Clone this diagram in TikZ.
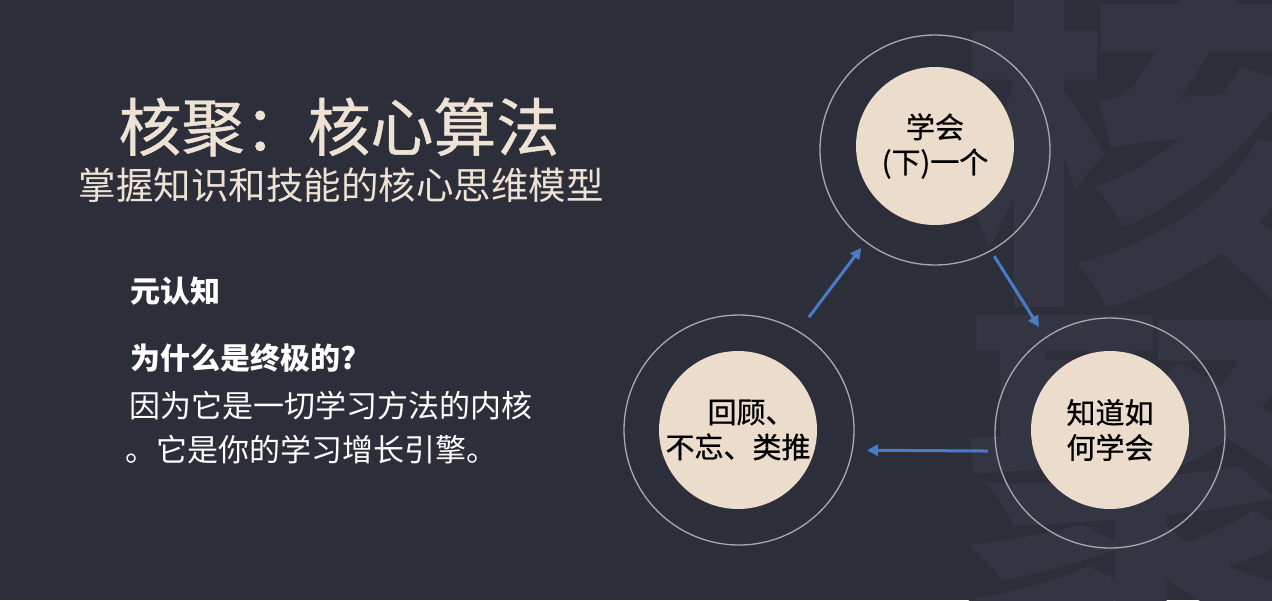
\documentclass[tikz,border=0pt]{standalone}
\usepackage{fontspec}
\usetikzlibrary{arrows.meta}
\newfontfamily\cjk{Noto Sans CJK SC}
\newfontfamily\cjkmed[FakeBold=0.7]{Noto Sans CJK SC}
\definecolor{bgc}{HTML}{2C2E3A}
\definecolor{wmc}{HTML}{333542}
\definecolor{beigetext}{HTML}{EDE2D3}
\definecolor{discfill}{HTML}{EBDCCB}
\definecolor{ringc}{HTML}{A8A8AE}
\definecolor{arrc}{HTML}{4A7CC6}
\tikzset{
  wm/.style={text=wmc, inner sep=0pt, font=\cjk\bfseries\fontsize{360}{360}\selectfont},
  titletext/.style={text=beigetext, inner sep=0pt, font=\cjkmed\fontsize{63}{66}\selectfont},
  subtext/.style={text=beigetext, inner sep=0pt, font=\cjk\fontsize{37.5}{42}\selectfont},
  boldline/.style={text=white, inner sep=0pt, anchor=west, font=\cjk\bfseries\fontsize{30}{34}\selectfont},
  plainline/.style={text=white, inner sep=0pt, anchor=west, font=\cjk\fontsize{31}{35}\selectfont},
  ring/.style={circle, draw=ringc, line width=1.3pt, minimum size=230pt, inner sep=0pt},
  disc/.style={circle, fill=discfill, minimum size=158pt, inner sep=0pt, align=center, text=black, font=\cjkmed\fontsize{29}{35}\selectfont},
  arr/.style={draw=arrc, line width=3pt, -{Triangle[length=11pt,width=11pt]}}
}
\begin{document}
\begin{tikzpicture}[x=1pt,y=-1pt]
\fill[bgc] (0,0) rectangle (1272,600);
\useasboundingbox (0,0) rectangle (1272,600);
\begin{scope}
\clip (0,0) rectangle (1272,600);
\node[wm] (wm1) at (1140,135) {核};
\node[wm] (wm2) at (1140,480) {聚};
\end{scope}
% titles
\node[titletext] (title) at (339,127) {核聚：核心算法};
\node[subtext] (sub) at (341,185) {掌握知识和技能的核心思维模型};
% left text
\node[boldline] (l1) at (130,291) {元认知};
\node[boldline] (l2) at (130,358) {为什么是终极的?};
\node[plainline] (l3) at (129,406) {因为它是一切学习方法的内核};
\node[plainline] (l4) at (125,450) {。它是你的学习增长引擎。};
% circles
\node[ring] (ringT) at (935,150) {};
\node[disc] (discT) at (935,146) {学会\\(下)一个};
\node[ring] (ringL) at (739,430) {};
\node[disc] (discL) at (738,430) {\hspace*{0.9em}回顾、\\不忘、类推};
\node[ring] (ringR) at (1110,433) {};
\node[disc] (discR) at (1110,430) {知道如\\何学会};
% arrows
\draw[arr, shorten <=17pt, shorten >=7pt] (ringL.59) -- (ringT.233);
\draw[arr, shorten <=6pt, shorten >=12pt] (ringT.299) -- (ringR.124);
\draw[arr, shorten <=8pt, shorten >=14pt] (ringR.189) -- (ringL.350);
\end{tikzpicture}
\end{document}
